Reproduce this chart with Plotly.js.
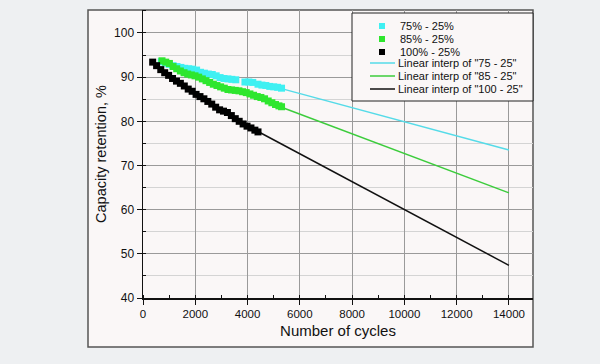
<!DOCTYPE html>
<html><head><meta charset="utf-8">
<script src="https://cdn.plot.ly/plotly-3.0.1.min.js"></script>
<style>html,body{margin:0;padding:0;background:#eef0f2;}#chart{width:600px;height:364px;}</style>
</head><body><div id="chart"></div>
<script>
// ---- data ----
const seriesNames = ["75% - 25%", "85% - 25%", "100% - 25%"];
const fitNames = ['Linear interp of "75 - 25"', 'Linear interp of "85 - 25"', 'Linear interp of "100 - 25"'];

const cyanX = [700,850,1000,1150,1300,1450,1600,1750,1900,2050,2200,2350,2500,2650,2800,2950,3100,3250,3400,3550,3900,4050,4200,4400,4550,4700,4850,5000,5150,5300];
const cyanY = [93.5,93.2,92.9,92.6,92.4,92.2,92.0,91.9,91.8,91.6,91.1,90.9,90.7,90.6,90.3,89.9,89.7,89.6,89.5,89.4,88.9,88.9,88.8,88.4,88.2,88.1,87.9,87.8,87.7,87.5];

const greenX = [727,870,1010,1150,1290,1430,1570,1710,1850,1990,2130,2270,2410,2550,2690,2830,2970,3110,3250,3390,3530,3670,3810,3950,4090,4230,4370,4510,4650,4790,4930,5070,5200,5300];
const greenY = [93.7,93.4,93.1,92.4,91.9,91.4,91.0,90.7,90.5,90.3,90.0,89.6,89.2,88.8,88.4,88.1,87.8,87.5,87.2,87.1,87.0,86.9,86.7,86.5,86.2,85.9,85.6,85.4,85.1,84.6,84.2,83.8,83.5,83.3];

const blackX = [370,520,680,830,980,1130,1280,1430,1580,1730,1880,2030,2180,2330,2480,2630,2780,2930,3080,3230,3380,3530,3680,3830,3980,4130,4280,4400];
const blackY = [93.4,92.6,91.7,91.0,90.4,89.7,89.1,88.6,88.0,87.3,86.8,86.1,85.6,85.1,84.5,83.9,83.2,82.6,82.3,82.0,81.3,80.6,80.0,79.4,78.9,78.5,78.0,77.6];

const cyanFitX = [5300, 14000], cyanFitY = [87.4, 73.5];
const greenFitX = [5300, 14000], greenFitY = [83.2, 63.8];
const blackFitX = [4400, 14000], blackFitY = [77.7, 47.4];

const xTicks = [0,2000,4000,6000,8000,10000,12000,14000];
const yTicks = [40,50,60,70,80,90,100];

// ---- styles ----
const cMark = ["#3ff0f2", "#2ee62e", "#000000"];
const cLine = ["#55dbe8", "#3ccc3c", "#111111"];
const FONT = "Liberation Sans, Arial, sans-serif";

const traces = [
  {x: cyanFitX, y: cyanFitY, mode: "lines", name: fitNames[0], line: {color: cLine[0], width: 1.5}},
  {x: greenFitX, y: greenFitY, mode: "lines", name: fitNames[1], line: {color: cLine[1], width: 1.5}},
  {x: blackFitX, y: blackFitY, mode: "lines", name: fitNames[2], line: {color: cLine[2], width: 1.5}},
  {x: cyanX, y: cyanY, mode: "markers", name: seriesNames[0], marker: {symbol: "square", size: 7, color: cMark[0]}},
  {x: greenX, y: greenY, mode: "markers", name: seriesNames[1], marker: {symbol: "square", size: 7, color: cMark[1]}},
  {x: blackX, y: blackY, mode: "markers", name: seriesNames[2], marker: {symbol: "square", size: 7, color: cMark[2]}}
].map(t => Object.assign(t, {showlegend: false, hoverinfo: "skip"}));

// plot area in pixels: left 143, right 533, top 10, bottom 298
const L = 143, R = 533, T = 10, B = 298;
const px = v => (v - L) / (R - L);
const py = v => (B - v) / (B - T);

const shapes = [
  {type: "rect", xref: "paper", yref: "paper", x0: px(88), x1: px(533), y0: py(347), y1: py(10),
   line: {color: "#555", width: 1.5}, fillcolor: "#faf7f7", layer: "below"},
  {type: "rect", xref: "paper", yref: "paper", x0: px(352), x1: px(533), y0: py(101), y1: py(13),
   line: {color: "#222", width: 1}, fillcolor: "#faf7f7", layer: "above"}
];
const annotations = [];
const legRows = [26, 39, 52, 63, 76, 89];
const legLabels = seriesNames.concat(fitNames);
legLabels.forEach((lab, i) => {
  const yy = legRows[i];
  if (i < 3) {
    shapes.push({type: "rect", xref: "paper", yref: "paper", x0: px(379), x1: px(385), y0: py(yy + 3), y1: py(yy - 3),
      line: {width: 0}, fillcolor: cMark[i], layer: "above"});
  } else {
    shapes.push({type: "line", xref: "paper", yref: "paper", x0: px(370), x1: px(395), y0: py(yy), y1: py(yy),
      line: {color: cLine[i - 3], width: 1.5}, layer: "above"});
  }
  annotations.push({xref: "paper", yref: "paper", x: px(i < 3 ? 398 : 396), y: py(yy), xanchor: "left", yanchor: "middle",
    text: lab, showarrow: false, font: {family: FONT, size: 11, color: "#111"}});
});

const layout = {
  width: 600, height: 364,
  margin: {l: L, r: 600 - R, t: T, b: 364 - B, pad: 0},
  paper_bgcolor: "#eef0f2",
  plot_bgcolor: "rgba(0,0,0,0)",
  font: {family: FONT, size: 11, color: "#111"},
  showlegend: false,
  xaxis: {
    range: [0, 14920], tickvals: xTicks, ticktext: xTicks.map(String),
    showgrid: true, gridcolor: "#9a9a9a", gridwidth: 1,
    showline: true, linecolor: "#111", linewidth: 1.5,
    ticks: "outside", ticklen: 5, tickcolor: "#111", tickwidth: 1,
    minor: {dtick: 1000, ticks: "inside", ticklen: 3, tickcolor: "#111", showgrid: false},
    zeroline: false, tickfont: {size: 11.5, color: "#111"},
    title: {text: "Number of cycles", font: {size: 15, color: "#111"}, standoff: 6}
  },
  yaxis: {
    range: [40, 105.2], tickvals: yTicks, ticktext: yTicks.map(String),
    showgrid: true, gridcolor: "#9a9a9a", gridwidth: 1,
    showline: true, linecolor: "#111", linewidth: 1.5,
    ticks: "outside", ticklen: 5, tickcolor: "#111", tickwidth: 1,
    minor: {dtick: 5, ticks: "inside", ticklen: 3, tickcolor: "#111", showgrid: true, gridcolor: "#d4d4d4", gridwidth: 1},
    zeroline: false, tickfont: {size: 12, color: "#111"},
    title: {text: "Capacity retention, %", font: {size: 14.5, color: "#111"}, standoff: 4}
  },
  shapes: shapes,
  annotations: annotations
};

Plotly.newPlot("chart", traces, layout, {staticPlot: true, displayModeBar: false});
</script></body></html>
